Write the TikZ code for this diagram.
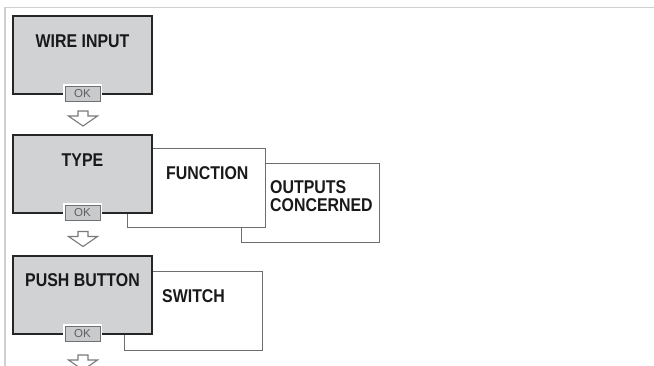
\documentclass[tikz,border=0pt]{standalone}
\usepackage{fontspec}
\setmainfont{Liberation Sans}
\newfontfamily\boxfont{Liberation Sans}[FakeStretch=0.86]
\newfontfamily\okfont{Liberation Sans}
\definecolor{boxgray}{HTML}{D1D2D4}
\definecolor{framegray}{HTML}{D0D0D0}
\definecolor{btngray}{HTML}{C9CACC}
\definecolor{btnline}{HTML}{707070}
\definecolor{sideline}{HTML}{6E6E6E}
\definecolor{okgray}{HTML}{606060}
\definecolor{arrowgray}{HTML}{7A7A7A}
\tikzset{
  mainbox/.style={draw=black!85, line width=1.1pt, fill=boxgray, minimum width=139pt, minimum height=78pt, anchor=north west, inner sep=0pt, outer sep=0pt},
  sidebox/.style={draw=sideline, line width=0.8pt, fill=white, minimum width=138pt, minimum height=79pt, anchor=north west, inner sep=0pt, outer sep=0pt},
  boxtext/.style={font=\boxfont\bfseries\fontsize{18.5}{20}\selectfont, text=black!90, inner sep=0pt},
  halo/.style={fill=white, draw=none, minimum width=39pt, minimum height=19pt, inner sep=0pt},
  okbtn/.style={fill=btngray, draw=btnline, line width=0.9pt, minimum width=35pt, minimum height=14.5pt, inner sep=0pt, font=\okfont\fontsize{11.5}{12}\selectfont, text=okgray},
  blockarrow/.style={draw=arrowgray, line width=1.1pt, fill=white, line join=miter}
}
\begin{document}
\begin{tikzpicture}[x=1pt,y=-1pt]
\useasboundingbox (0,0) rectangle (654,365);
% frame
\draw[framegray, line width=1.6pt] (654,7.5) -- (5,7.5) -- (5,366);

% ---- WIRE INPUT ----
\node[mainbox] (wire) at (13,16) {};
\node[boxtext, anchor=base] (wiret) at (82.5,47) {WIRE INPUT};
\node[halo] (wireh) at (82.5,93) {};
\node[okbtn] (wireok) at (82.5,94) {OK};
\coordinate (a1) at (83,111);

% ---- TYPE with side boxes ----
\node[sidebox] (outp) at (241,163) {};
\node[sidebox] (func) at (127,148) {};
\node[mainbox] (type) at (13,135) {};
\node[boxtext, anchor=base] (typet) at (82.5,166) {TYPE};
\node[boxtext, anchor=base west] (funct) at (166,179) {FUNCTION};
\node[boxtext, anchor=base west] (outpt1) at (270,193) {OUTPUTS};
\node[boxtext, anchor=base west] (outpt2) at (270,211) {CONCERNED};
\node[halo] (typeh) at (82.5,212) {};
\node[okbtn] (typeok) at (82.5,213) {OK};
\coordinate (a2) at (83,231.5);

% ---- PUSH BUTTON ----
\node[sidebox] (sw) at (124,271) {};
\node[mainbox] (push) at (13,256) {};
\node[boxtext, anchor=base] (pusht) at (82.5,286) {PUSH BUTTON};
\node[boxtext, anchor=base west] (swt) at (162,302) {SWITCH};
\node[halo] (pushh) at (82.5,333) {};
\node[okbtn] (pushok) at (82.5,334) {OK};
\coordinate (a3) at (83,355);

% block arrows
\foreach \c in {a1,a2,a3}{
  \draw[blockarrow] ([xshift=-5pt]\c) -- ([xshift=5pt]\c) -- ([xshift=5pt,yshift=-5pt]\c)
    -- ([xshift=14.5pt,yshift=-5pt]\c) -- ([yshift=-15pt]\c) -- ([xshift=-14.5pt,yshift=-5pt]\c)
    -- ([xshift=-5pt,yshift=-5pt]\c) -- cycle;
}
\end{tikzpicture}
\end{document}
